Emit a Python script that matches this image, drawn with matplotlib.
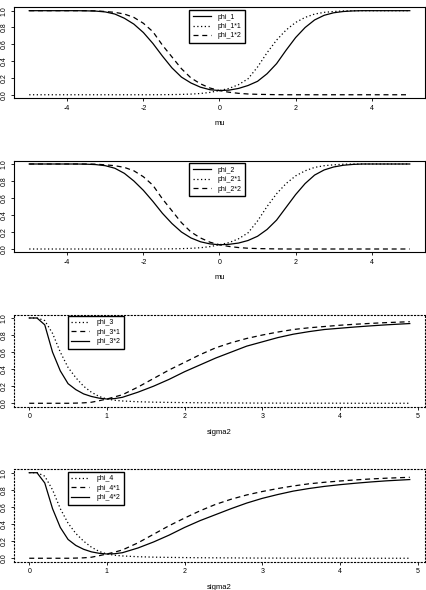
import matplotlib
matplotlib.use('Agg')
import matplotlib.pyplot as plt

plt.rcParams['font.family'] = ['Liberation Sans', 'DejaVu Sans']

# ---------- 数据 ----------
mu = [-5.0, -4.75, -4.5, -4.25, -4.0, -3.75, -3.5, -3.25, -3.0, -2.75, -2.5, -2.25,
      -2.0, -1.75, -1.5, -1.25, -1.0, -0.75, -0.5, -0.25, 0.0, 0.25, 0.5, 0.75,
      1.0, 1.25, 1.5, 1.75, 2.0, 2.25, 2.5, 2.75, 3.0, 3.25, 3.5, 3.75, 4.0, 4.25,
      4.5, 4.75, 5.0]

phi_1 = [1.0, 1.0, 1.0, 1.0, 1.0, 1.0, 0.998, 0.995, 0.985, 0.96, 0.91, 0.84,
         0.74, 0.61, 0.46, 0.32, 0.21, 0.14, 0.09, 0.06, 0.05, 0.055, 0.075, 0.11,
         0.16, 0.25, 0.37, 0.53, 0.68, 0.80, 0.89, 0.945, 0.975, 0.99, 0.997, 1.0,
         1.0, 1.0, 1.0, 1.0, 1.0]
phi_1s1 = [0.0, 0.0, 0.0, 0.0, 0.0, 0.0, 0.0, 0.0, 0.0, 0.0, 0.0, 0.0,
           0.0, 0.0, 0.001, 0.002, 0.004, 0.008, 0.015, 0.028, 0.05, 0.075, 0.12, 0.19,
           0.33, 0.50, 0.65, 0.77, 0.86, 0.92, 0.96, 0.98, 0.99, 0.997, 1.0, 1.0,
           1.0, 1.0, 1.0, 1.0, 1.0]
phi_1s2 = [1.0, 1.0, 1.0, 1.0, 1.0, 1.0, 1.0, 0.998, 0.99, 0.98, 0.96, 0.92,
           0.85, 0.75, 0.59, 0.45, 0.31, 0.20, 0.13, 0.08, 0.05, 0.03, 0.017, 0.009,
           0.005, 0.003, 0.001, 0.0, 0.0, 0.0, 0.0, 0.0, 0.0, 0.0, 0.0, 0.0,
           0.0, 0.0, 0.0, 0.0, 0.0]

phi_2 = [1.0, 1.0, 1.0, 1.0, 1.0, 1.0, 0.998, 0.993, 0.98, 0.95, 0.89, 0.80,
         0.69, 0.56, 0.42, 0.30, 0.20, 0.13, 0.085, 0.06, 0.05, 0.055, 0.07, 0.10,
         0.15, 0.23, 0.34, 0.49, 0.64, 0.77, 0.87, 0.93, 0.965, 0.985, 0.995, 1.0,
         1.0, 1.0, 1.0, 1.0, 1.0]
phi_2s1 = phi_1s1
phi_2s2 = phi_1s2

sigma2 = [0.0, 0.1, 0.2, 0.3, 0.4, 0.5, 0.6, 0.7, 0.8, 0.9, 1.0, 1.1, 1.2, 1.4,
          1.6, 1.8, 2.0, 2.2, 2.4, 2.6, 2.8, 3.0, 3.2, 3.4, 3.6, 3.8, 4.0, 4.2,
          4.4, 4.6, 4.8, 4.9]

phi_3 = [1.0, 1.0, 0.97, 0.82, 0.60, 0.42, 0.30, 0.20, 0.13, 0.08, 0.05, 0.035,
         0.027, 0.018, 0.013, 0.01, 0.008, 0.006, 0.005, 0.004, 0.003, 0.002, 0.002,
         0.001, 0.001, 0.001, 0.001, 0.0, 0.0, 0.0, 0.0, 0.0]
phi_3s1 = [0.0, 0.0, 0.0, 0.0, 0.0, 0.0, 0.002, 0.005, 0.012, 0.03, 0.05, 0.075,
           0.10, 0.19, 0.29, 0.39, 0.48, 0.57, 0.65, 0.71, 0.76, 0.80, 0.835, 0.865,
           0.885, 0.90, 0.915, 0.927, 0.937, 0.946, 0.953, 0.957]
phi_3s2 = [1.0, 1.0, 0.92, 0.60, 0.38, 0.23, 0.16, 0.11, 0.08, 0.06, 0.05, 0.055,
           0.07, 0.13, 0.20, 0.28, 0.37, 0.45, 0.53, 0.60, 0.67, 0.72, 0.77, 0.81,
           0.84, 0.865, 0.88, 0.895, 0.908, 0.92, 0.93, 0.935]

phi_4 = [1.0, 1.0, 0.96, 0.80, 0.58, 0.41, 0.29, 0.20, 0.13, 0.08, 0.05, 0.035,
         0.027, 0.018, 0.013, 0.01, 0.008, 0.006, 0.005, 0.004, 0.003, 0.002, 0.002,
         0.001, 0.001, 0.001, 0.001, 0.0, 0.0, 0.0, 0.0, 0.0]
phi_4s1 = [0.0, 0.0, 0.0, 0.0, 0.0, 0.0, 0.002, 0.005, 0.012, 0.03, 0.05, 0.072,
           0.097, 0.18, 0.28, 0.38, 0.47, 0.555, 0.63, 0.69, 0.74, 0.78, 0.815, 0.845,
           0.87, 0.888, 0.903, 0.916, 0.927, 0.936, 0.943, 0.946]
phi_4s2 = [1.0, 1.0, 0.88, 0.58, 0.36, 0.22, 0.15, 0.105, 0.075, 0.058, 0.05, 0.053,
           0.065, 0.12, 0.19, 0.27, 0.36, 0.44, 0.51, 0.58, 0.645, 0.70, 0.745, 0.785,
           0.815, 0.84, 0.86, 0.877, 0.892, 0.905, 0.915, 0.92]

yticks = [0.0, 0.2, 0.4, 0.6, 0.8, 1.0]
ytick_labels = ['0.0', '0.2', '0.4', '0.6', '0.8', '1.0']

SOLID = '-'
DOT = (0, (1, 2))
DASH = (0, (4, 3))

fig = plt.figure(figsize=(4.27, 5.90), dpi=100)

# 面板位置 [left, bottom, width, height]
boxes = [
    [0.0328, 0.8337, 0.9625, 0.1539],
    [0.0328, 0.5722, 0.9625, 0.1556],
    [0.0328, 0.3107, 0.9625, 0.1561],
    [0.0328, 0.0480, 0.9625, 0.1566],
]

panels = [
    (mu, [(phi_1, SOLID, 'phi_1'), (phi_1s1, DOT, 'phi_1*1'), (phi_1s2, DASH, 'phi_1*2')],
     'mu', (0.426, 0.970), SOLID),
    (mu, [(phi_2, SOLID, 'phi_2'), (phi_2s1, DOT, 'phi_2*1'), (phi_2s2, DASH, 'phi_2*2')],
     'mu', (0.426, 0.971), SOLID),
    (sigma2, [(phi_3, DOT, 'phi_3'), (phi_3s1, DASH, 'phi_3*1'), (phi_3s2, SOLID, 'phi_3*2')],
     'sigma2', (0.131, 0.985), DOT),
    (sigma2, [(phi_4, DOT, 'phi_4'), (phi_4s1, DASH, 'phi_4*1'), (phi_4s2, SOLID, 'phi_4*2')],
     'sigma2', (0.131, 0.971), DOT),
]

for box, (x, series, xlab, leg_pos, frame_ls) in zip(boxes, panels):
    ax = fig.add_axes(box)
    for y, ls, lab in series:
        ax.plot(x, y, color='black', linestyle=ls, linewidth=0.9, label=lab)

    # R 风格：范围两侧各扩展 4%
    xr = x[-1] - x[0]
    ax.set_xlim(x[0] - 0.04 * xr, x[-1] + 0.04 * xr)
    ax.set_ylim(-0.04, 1.04)
    if xlab == 'mu':
        ax.set_xticks([-4, -2, 0, 2, 4])
        ax.set_xticklabels(['-4', '-2', '0', '2', '4'])
    else:
        ax.set_xticks([0, 1, 2, 3, 4, 5])
        ax.set_xticklabels(['0', '1', '2', '3', '4', '5'])
    ax.set_yticks(yticks)
    ax.set_yticklabels(ytick_labels, rotation=90, va='center')
    ax.tick_params(labelsize=5, length=2.2, width=0.6, pad=2.5, direction='out')
    ax.set_xlabel(xlab, fontsize=5.5, labelpad=6)

    for sp in ax.spines.values():
        sp.set_linewidth(0.8)
        sp.set_linestyle(frame_ls)

    leg = ax.legend(loc='upper left', bbox_to_anchor=leg_pos, fontsize=5,
                    frameon=True, fancybox=False, framealpha=1, edgecolor='black',
                    handlelength=2.6, handletextpad=1.0, labelspacing=0.35,
                    borderpad=0.5, borderaxespad=0)
    leg.get_frame().set_linewidth(1.0)

fig.savefig('out.png', dpi=100)
